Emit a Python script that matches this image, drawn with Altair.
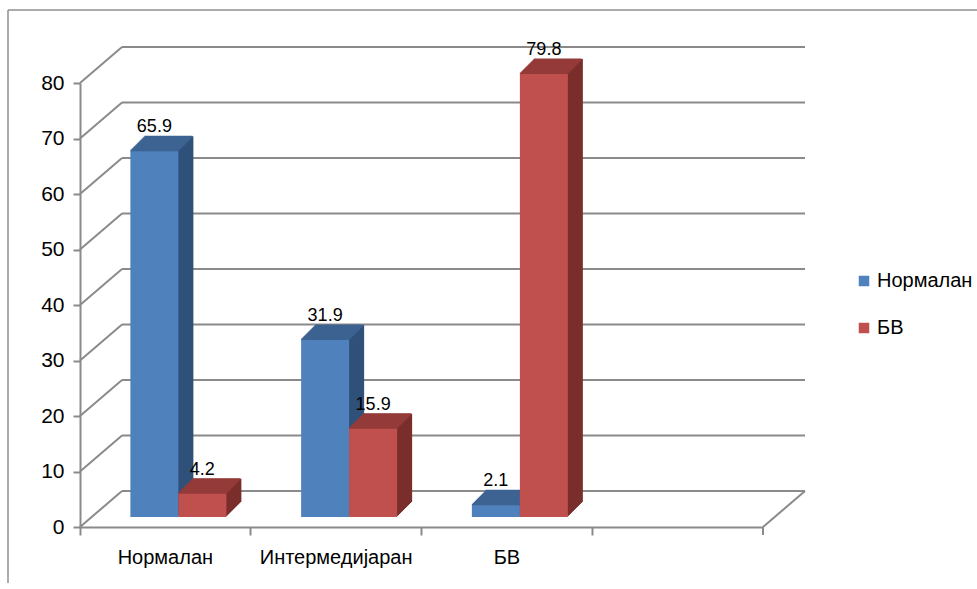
import altair as alt
import pandas as pd

# ---- data ----
categories = ["Нормалан", "Интермедијаран", "БВ", " "]   # 4th band is empty in the original
series_names = ["Нормалан", "БВ"]
normalan_values = [65.9, 31.9, 2.1]
bv_values = [4.2, 15.9, 79.8]
y_ticks = [0, 10, 20, 30, 40, 50, 60, 70, 80]

rows = []
for c, v in zip(categories[:3], normalan_values):
    rows.append({"category": c, "series": "Нормалан", "value": v})
for c, v in zip(categories[:3], bv_values):
    rows.append({"category": c, "series": "БВ", "value": v})
df = pd.DataFrame(rows)
grid_df = pd.DataFrame({"v": y_ticks})
one = pd.DataFrame({"a": [0]})

# ---- style ----
FONT = "Liberation Sans"
W, H = 683, 444
DEPTH_X, DEPTH_Y = 42, 36
GRID = "#8a8a8a"
front = {"Нормалан": "#4F81BD", "БВ": "#C0504D"}
topc = {"Нормалан": "#3D6392", "БВ": "#943B39"}
side = {"Нормалан": "#2F5079", "БВ": "#7A2E2C"}
base_off = {"Нормалан": -11, "БВ": 37}
BAR_W = 48
LIFT = 10
D = 15

xscale = alt.Scale(domain=categories, paddingInner=0, paddingOuter=0)
yscale = alt.Scale(domain=[0, 80], nice=False, zero=True)

xaxis = alt.Axis(bandPosition=0, tickSize=8,
                 labelPadding=12, labelFontSize=20, labelFont=FONT,
                 labelColor="#000000", labelAngle=0, labelOverlap=False,
                 labelBound=False, domainColor=GRID, tickColor=GRID,
                 domainWidth=2, tickWidth=2, grid=False, title=None)
yaxis = alt.Axis(values=y_ticks, grid=False, tickSize=7, labelPadding=9,
                 labelFontSize=21, labelFont=FONT, labelColor="#000000",
                 domainColor=GRID, tickColor=GRID, domainWidth=2, tickWidth=2, title=None)

X = alt.X("category:N", scale=xscale, axis=xaxis, title=None)
Y = alt.Y("value:Q", scale=yscale, axis=yaxis, title=None)
YV = alt.Y("v:Q", scale=yscale, axis=yaxis, title=None)

layers = []

# axes carrier (invisible bars)
layers.append(alt.Chart(df).mark_bar(opacity=0).encode(x=X, y=Y))

# frame
layers.append(alt.Chart(one).mark_rule(color="#8f8f8f", strokeWidth=1.5).encode(
    x=alt.value(-72), y=alt.value(-73), y2=alt.value(500)))
layers.append(alt.Chart(one).mark_rule(color="#8f8f8f", strokeWidth=1.5).encode(
    x=alt.value(-72), x2=alt.value(897), y=alt.value(-73)))

# back wall gridlines
layers.append(alt.Chart(grid_df).mark_rule(color=GRID, strokeWidth=2, yOffset=-DEPTH_Y).encode(
    y=YV, x=alt.value(DEPTH_X), x2=alt.value(W + DEPTH_X)))
# side wall diagonals
layers.append(alt.Chart(grid_df).mark_rule(color=GRID, strokeWidth=2, y2Offset=-DEPTH_Y).encode(
    y=YV, y2=alt.Y2("v:Q"), x=alt.value(0), x2=alt.value(DEPTH_X)))
# floor right diagonal
layers.append(alt.Chart(grid_df).transform_filter("datum.v == 0").mark_rule(
    color=GRID, strokeWidth=2, y2Offset=-DEPTH_Y).encode(
    y=YV, y2=alt.Y2("v:Q"), x=alt.value(W), x2=alt.value(W + DEPTH_X)))
# end tick of category axis
layers.append(alt.Chart(one).mark_rule(color=GRID, strokeWidth=2).encode(
    x=alt.value(W), y=alt.value(H), y2=alt.value(H + 8)))

legend = alt.Legend(title=None, orient="none", legendX=774, legendY=188,
                    symbolType="square", symbolSize=110, symbolStrokeWidth=0,
                    labelFontSize=20, labelFont=FONT, labelColor="#000000",
                    rowPadding=27, labelOffset=3, padding=0)
color = alt.Color("series:N", scale=alt.Scale(domain=series_names,
                                              range=[front[n] for n in series_names]),
                  legend=legend)

for s in series_names:
    src = alt.Chart(df).transform_filter(alt.datum.series == s)
    b = base_off[s]
    # side faces (staircase)
    for k in range(1, D + 1):
        layers.append(src.mark_bar(width=BAR_W, xOffset=b + k, yOffset=-LIFT - k,
                                   y2Offset=-LIFT - k, color=side[s]).encode(
            x=X, y=Y, y2=alt.datum(0)))
    # top faces (thin strips)
    for k in range(0, D):
        layers.append(src.mark_bar(width=BAR_W, xOffset=b + k, yOffset=-LIFT - k - 1.5,
                                   y2Offset=-LIFT - k + 0.5, color=topc[s]).encode(
            x=X, y=Y, y2=alt.Y2("value:Q")))
    # front face
    layers.append(src.mark_bar(width=BAR_W, xOffset=b, yOffset=-LIFT, y2Offset=-LIFT).encode(
        x=X, y=Y, y2=alt.datum(0), color=color))
    # value labels
    layers.append(src.mark_text(xOffset=b, yOffset=-LIFT - 19, baseline="alphabetic",
                                align="center", fontSize=18, font=FONT, color="#000000").encode(
        x=X, y=Y, text=alt.Text("value:Q", format=".1f")))

chart = alt.layer(*layers).properties(
    width=W, height=H,
    autosize=alt.AutoSizeParams(type="none"),
    padding={"left": 80, "top": 83, "right": 214, "bottom": 62},
    background="#ffffff",
).configure_view(stroke=None)

chart.save("out.html", embed_options={"renderer": "svg", "actions": False})
